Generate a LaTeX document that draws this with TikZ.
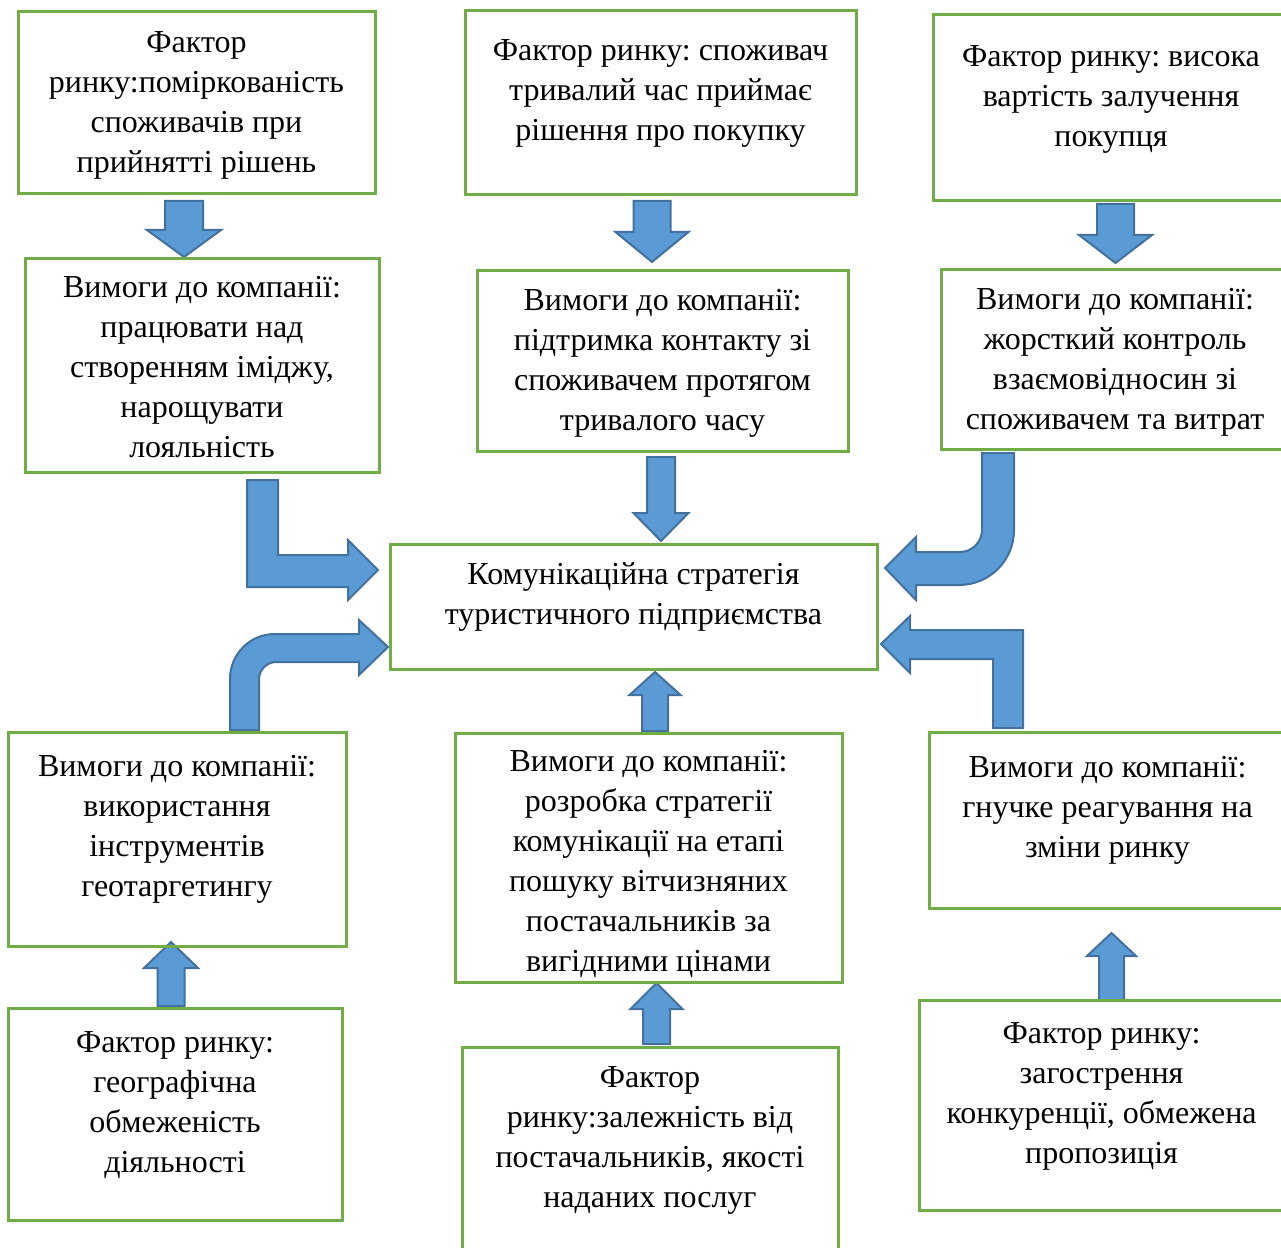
\documentclass[tikz,border=0pt]{standalone}
\usepackage{fontspec}
\setmainfont{Liberation Serif}
\frenchspacing
\definecolor{arrowfill}{HTML}{5B9BD5}
\definecolor{arrowline}{HTML}{41719C}
\definecolor{boxline}{HTML}{70AD47}
\tikzset{
  boxst/.style={draw=boxline, line width=2.25pt, inner sep=0pt, rectangle},
  txt/.style={inner sep=0pt, align=center, font=\fontsize{24}{30}\selectfont},
  blockarrow/.style={fill=arrowfill, draw=arrowline, line width=1.5pt, line join=miter},
}
% name, x1, y1, x2, y2, first baseline, text
\newcommand\tbox[7]{%
  \node[boxst, minimum width={(#4-#2)*0.75pt}, minimum height={(#5-#3)*0.75pt}] (#1) at ({(#2+#4)/2},{(#3+#5)/2}) {};
  \node[txt, anchor=north] (#1t) at ({(#2+#4)/2},{#6-28}) {\strut #7};
}
% cx, shaft half, head half, shaft end y, head base y, tip y
\newcommand\vblock[6]{%
  \draw[blockarrow] ({#1-#2},#4) -- ({#1+#2},#4) -- ({#1+#2},#5) -- ({#1+#3},#5) -- (#1,#6) -- ({#1-#3},#5) -- ({#1-#2},#5) -- cycle;
}
\begin{document}
\begin{tikzpicture}[x=0.75pt,y=-0.75pt]
\useasboundingbox (0,0) rectangle (1281,1248);
\fill[white] (0,0) rectangle (1281,1248);
\clip (0,0) rectangle (1281,1248);

% block arrows
\vblock{184}{19}{37}{201}{230}{257}
\vblock{652}{18.5}{36.5}{201}{232}{262}
\vblock{1115.5}{18.5}{36.5}{204}{235}{263}
\vblock{661}{14}{27.5}{457}{513}{541}
\vblock{655}{13}{25.5}{731}{695}{672}
\vblock{171}{13.5}{27}{1006}{968}{942}
\vblock{656.5}{13.5}{26}{1044}{1009}{983}
\vblock{1111.5}{12.5}{24.5}{1000}{956}{933}

\draw[blockarrow] (247,480) -- (278,480) -- (278,555) -- (348,555) -- (348,540) -- (378,570) -- (348,600) -- (348,587) -- (247,587) -- cycle;
\draw[blockarrow] (982,453) -- (1014,453) -- (1014,530) .. controls (1014,560) and (990,585) .. (959,585) -- (916,585) -- (916,600) -- (885,568) -- (916,537) -- (916,552) -- (960,552) .. controls (972,552) and (982,542) .. (982,530) -- cycle;
\draw[blockarrow] (230,730) -- (230,679) .. controls (230,654) and (250,634) .. (275,634) -- (359,634) -- (359,620) -- (388,647) -- (359,675) -- (359,662) -- (276,662) .. controls (267,662) and (259,670) .. (259,679) -- (259,730) -- cycle;
\draw[blockarrow] (993,728) -- (993,659) -- (910,659) -- (910,673) -- (881,644) -- (910,616) -- (910,630) -- (1023,630) -- (1023,728) -- cycle;

% boxes
\tbox{f1}{18}{12}{375}{194}{52}{Фактор\\ринку:поміркованість\\споживачів при\\прийнятті рішень}
\tbox{f2}{465}{11}{856}{195}{60}{Фактор ринку: споживач\\тривалий час приймає\\рішення про покупку}
\tbox{f3}{933}{15}{1289}{201}{66}{Фактор ринку: висока\\вартість залучення\\покупця}
\tbox{v1}{25}{259}{379}{472}{297}{Вимоги до компанії:\\працювати над\\створенням іміджу,\\нарощувати\\лояльність}
\tbox{v2}{477}{271}{848}{451}{310}{Вимоги до компанії:\\підтримка контакту зі\\споживачем протягом\\тривалого часу}
\tbox{v3}{941}{270}{1289}{449}{309}{Вимоги до компанії:\\жорсткий контроль\\взаємовідносин зі\\споживачем та витрат}
\tbox{c}{390}{544}{877}{669}{584}{Комунікаційна стратегія\\туристичного підприємства}
\tbox{v4}{8}{732}{346}{946}{776}{Вимоги до компанії:\\використання\\інструментів\\геотаргетингу}
\tbox{v5}{455}{733}{842}{982}{771}{Вимоги до компанії:\\розробка стратегії\\комунікації на етапі\\пошуку вітчизняних\\постачальників за\\вигідними цінами}
\tbox{v6}{929}{732}{1286}{908}{777}{Вимоги до компанії:\\гнучке реагування на\\зміни ринку}
\tbox{f4}{8}{1008}{342}{1220}{1052}{Фактор ринку:\\географічна\\обмеженість\\діяльності}
\tbox{f5}{462}{1047}{838}{1262}{1087}{Фактор\\ринку:залежність від\\постачальників, якості\\наданих послуг}
\tbox{f6}{919}{1000}{1284}{1210}{1043}{Фактор ринку:\\загострення\\конкуренції, обмежена\\пропозиція}
\end{tikzpicture}
\end{document}
